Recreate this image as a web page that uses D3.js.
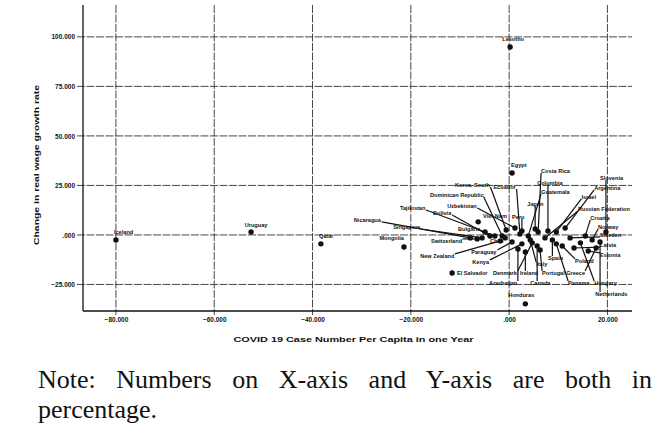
<!DOCTYPE html>
<html>
<head>
<meta charset="utf-8">
<script src="https://cdnjs.cloudflare.com/ajax/libs/d3/7.8.5/d3.min.js"></script>
<style>
  body { margin: 0; background: #fff; }
  svg { display: block; }
</style>
</head>
<body>
<svg></svg>
<script>
// data (x: COVID case number per capita, y: change in real wage growth)
const countries = [
  "Lesotho", "Iceland", "Uruguay", "Qatar", "Mongolia", "Egypt", "Honduras", "El Salvador",
  "Nicaragua", "Singapore", "Tajikistan", "Bolivia", "Bulgaria", "Viet Nam", "Korea, South",
  "Dominican Republic", "Uzbekistan", "Ecuador", "Switzerland", "Chile", "New Zealand",
  "Paraguay", "Kenya", "Azerbaijan", "Canada", "Panama", "Hungary", "Netherlands",
  "Costa Rica", "Colombia", "Slovenia", "Argentina", "Guatemala", "Israel",
  "Russian Federation", "Croatia", "Norway", "Sweden", "Latvia", "Estonia", "Greece",
  "Poland", "Denmark", "Ireland", "Portugal", "Japan", "Peru", "Spain", "Italy"
];
const caseChange = [
  0.2, -80.0, -52.5, -38.3, -21.4, 0.6, 3.3, -11.6,
  -7.9, -5.5, -4.9, -3.9, -2.9, -6.3, -0.6,
  -1.4, 1.2, 2.2, -6.5, -0.8, -1.8,
  0.6, 2.6, 1.8, 5.7, 9.6, 14.5, 18.5,
  5.9, 7.9, 19.7, 11.4, 3.9, 9.6,
  7.3, 15.5, 16.9, 12.4, 13.2, 16.1, 17.7,
  10.8, 4.7, 3.3, 6.3, 5.3, 2.6, 8.8, 4.3
];
const wageChange = [
  94.9, -2.5, 1.5, -4.5, -6.1, 31.3, -34.8, -19.2,
  -1.5, -1.5, 1.5, -0.5, -0.5, 6.6, 2.5,
  -0.5, 3.5, 0.5, -2.0, -1.5, -3.0,
  -3.5, -4.5, -7.1, -5.6, -4.5, -4.0, -3.5,
  1.5, 2.0, 1.5, 3.5, -0.5, 1.5,
  -1.5, -0.5, -2.5, -1.5, -6.6, -8.1, -6.6,
  -5.6, -4.0, -8.6, -7.6, 3.0, 2.0, -2.5, -2.5
];

// where each point label sits, in data units
const labelX = [
  -1.4, -80.4, -53.8, -38.7, -21.4, 0.4, -0.2, -10.6,
  -31.6, -23.6, -22.2, -15.5, -10.4, -5.3, -11.0,
  -16.1, -12.6, -3.2, -15.9, -3.9, -18.1,
  -7.7, -7.5, -4.1, 4.3, 12.0, 17.3, 17.5,
  6.5, 5.7, 18.5, 17.3, 6.5, 14.7,
  14.0, 16.5, 18.1, 18.5, 18.5, 18.5, 11.6,
  13.4, -3.3, 2.2, 6.7, 3.7, 0.6, 7.9, 5.5
];
const labelY = [
  98.0, 0.5, 4.0, -1.5, -2.5, 34.3, -31.3, -20.2,
  6.6, 3.0, 12.6, 10.1, 2.0, 8.6, 24.2,
  19.2, 13.6, 23.2, -4.0, -4.0, -11.6,
  -9.6, -14.6, -25.3, -25.3, -25.3, -25.3, -30.8,
  31.3, 25.3, 27.8, 22.7, 20.7, 18.2,
  12.1, 7.6, 3.0, -1.0, -6.1, -11.1, -20.2,
  -14.1, -20.2, -20.2, -20.2, 14.6, 8.1, -12.6, -15.7
];
const endAnchored = ["Mongolia"];

const xTicks = [-80, -60, -40, -20, 0, 20];
const yTicks = [-25, 0, 25, 50, 75, 100];
const xTitle = "COVID 19 Case Number Per Capita in one Year";
const yTitle = "Change in real wage growth rate";
const noteLines = ["Note: Numbers on X-axis and Y-axis are both in", "percentage."];

const width = 666;
const height = 440;
const plotLeft = 83, plotRight = 632, plotTop = 5, plotBottom = 311;

const svg = d3.select("svg").attr("width", width).attr("height", height);

const x = d3.scaleLinear().domain([-86.7, 25]).range([plotLeft, plotRight]);
const y = d3.scaleLinear().domain([-38.4, 116.1]).range([plotBottom, plotTop]);

let fmt = (v) => {
  let s = d3.format(".3f")(v);
  return s.replace(/^(-?)0\./, "$1.");
};

// grid lines
svg.append("g")
  .selectAll("line")
  .data(yTicks)
  .enter()
  .append("line")
  .attr("x1", plotLeft - 6)
  .attr("x2", plotRight)
  .attr("y1", (d) => y(d))
  .attr("y2", (d) => y(d))
  .attr("stroke", "#333")
  .attr("stroke-width", 0.9)
  .attr("stroke-dasharray", "8,1.5");

svg.append("g")
  .selectAll("line")
  .data(xTicks)
  .enter()
  .append("line")
  .attr("x1", (d) => x(d))
  .attr("x2", (d) => x(d))
  .attr("y1", plotTop)
  .attr("y2", plotBottom + 4)
  .attr("stroke", "#333")
  .attr("stroke-width", 0.9)
  .attr("stroke-dasharray", "8,1.5");

// axes
let xAxis = d3.axisBottom(x).tickValues(xTicks).tickFormat(fmt).tickSize(0).tickPadding(6);
let yAxis = d3.axisLeft(y).tickValues(yTicks).tickFormat(fmt).tickSize(0).tickPadding(8);

let gx = svg.append("g")
  .attr("transform", "translate(0," + plotBottom + ")")
  .call(xAxis);
let gy = svg.append("g")
  .attr("transform", "translate(" + plotLeft + ",0)")
  .call(yAxis);

[gx, gy].forEach((g) => {
  g.select(".domain").remove();
  g.selectAll("text")
    .attr("font-family", "Liberation Sans, Arial, sans-serif")
    .attr("font-size", 6.5)
    .attr("font-weight", "bold")
    .attr("fill", "#111");
});

svg.append("line")
  .attr("x1", plotLeft).attr("x2", plotLeft)
  .attr("y1", plotTop).attr("y2", plotBottom)
  .attr("stroke", "#111").attr("stroke-width", 1.3);
svg.append("line")
  .attr("x1", plotLeft).attr("x2", plotRight)
  .attr("y1", plotBottom).attr("y2", plotBottom)
  .attr("stroke", "#111").attr("stroke-width", 1.3);

// axis titles
svg.append("text")
  .attr("x", (plotLeft + plotRight) / 2 - 4)
  .attr("y", 342)
  .attr("text-anchor", "middle")
  .attr("font-family", "Liberation Sans, Arial, sans-serif")
  .attr("font-size", 8)
  .attr("font-weight", "bold")
  .attr("textLength", 240)
  .attr("lengthAdjust", "spacingAndGlyphs")
  .attr("fill", "#111")
  .text(xTitle);

svg.append("text")
  .attr("transform", "translate(39,165) rotate(-90)")
  .attr("text-anchor", "middle")
  .attr("font-family", "Liberation Sans, Arial, sans-serif")
  .attr("font-size", 8)
  .attr("font-weight", "bold")
  .attr("textLength", 160)
  .attr("lengthAdjust", "spacingAndGlyphs")
  .attr("fill", "#111")
  .text(yTitle);

// points and labels
let points = countries.map((name, i) => ({
  name: name,
  x: caseChange[i],
  y: wageChange[i],
  lx: labelX[i],
  ly: labelY[i],
}));

let leaders = svg.append("g");

let labels = svg.append("g")
  .selectAll("text")
  .data(points)
  .enter()
  .append("text")
  .attr("x", (d) => x(d.lx))
  .attr("y", (d) => y(d.ly))
  .attr("text-anchor", (d) => (endAnchored.includes(d.name) ? "end" : "start"))
  .attr("font-family", "Liberation Sans, Arial, sans-serif")
  .attr("font-size", 5.6)
  .attr("font-weight", "bold")
  .attr("fill", "#111")
  .text((d) => d.name);

labels.each(function (d) {
  let b = this.getBBox();
  let px = x(d.x), py = y(d.y);
  let cx = Math.max(b.x, Math.min(px, b.x + b.width));
  let cy = Math.max(b.y + 1, Math.min(py, b.y + b.height - 1));
  let dist = Math.hypot(px - cx, py - cy);
  if (dist > 9) {
    leaders.append("line")
      .attr("x1", cx).attr("y1", cy)
      .attr("x2", px).attr("y2", py)
      .attr("stroke", "#111")
      .attr("stroke-width", 1.2);
  }
});

svg.append("g")
  .selectAll("circle")
  .data(points)
  .enter()
  .append("circle")
  .attr("cx", (d) => x(d.x))
  .attr("cy", (d) => y(d.y))
  .attr("r", 2.7)
  .attr("fill", "#111");

// note under the chart, justified across the line
let note = svg.append("g")
  .attr("font-family", "Liberation Serif, Times New Roman, serif")
  .attr("font-size", 26)
  .attr("fill", "#111");

let line1 = note.append("text").attr("x", 38).attr("y", 388).text(noteLines[0]);
note.append("text").attr("x", 38).attr("y", 418).text(noteLines[1]);

let natural = line1.node().getComputedTextLength();
let gaps = noteLines[0].split(" ").length - 1;
line1.attr("word-spacing", Math.max(0, (614 - natural) / gaps));
</script>
</body>
</html>
